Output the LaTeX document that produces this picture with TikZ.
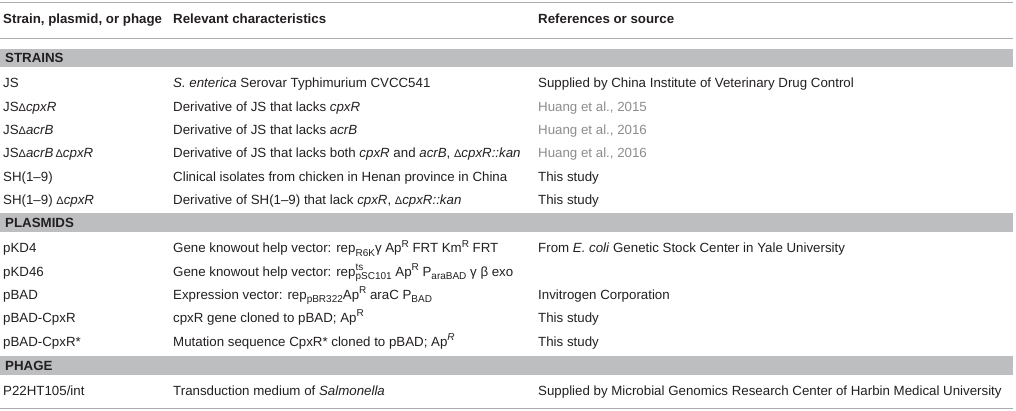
\documentclass[tikz,border=0pt]{standalone}
\usepackage{fontspec}
\setmainfont{Liberation Sans}
\definecolor{rulegray}{HTML}{ABADB0}
\definecolor{bandgray}{HTML}{BDBEC0}
\definecolor{refgray}{HTML}{8C8C8C}
\definecolor{ink}{HTML}{231F20}
\newcommand{\fsz}{\fontsize{13.3}{15}\selectfont}
\newcommand{\dlt}{{\fontsize{11}{11}\selectfont Δ}}
\newcommand{\sps}[1]{\raisebox{0.85ex}{\fontsize{10}{10}\selectfont #1}}
\newcommand{\sbs}[1]{\raisebox{-0.45ex}{\fontsize{10}{10}\selectfont #1}}
\begin{document}
\begin{tikzpicture}[x=1pt,y=-1pt,
  cell/.style={anchor=base west, inner sep=0pt, text=ink, font=\fsz},
  refcell/.style={cell, text=refgray},
  head/.style={cell, font=\fsz\bfseries},
  rule/.style={draw=rulegray, line width=1pt},
  band/.style={fill=bandgray}]
\useasboundingbox (0,0) rectangle (1016,411);
% rules
\draw[rule] (0,3) -- (1013,3);
\draw[rule] (0,39) -- (1013,39);
\draw[rule] (0,408) -- (1013,408);
% bands
\fill[band] (0,49) rectangle (1013,67.5);
\fill[band] (0,213.5) rectangle (1013,232);
\fill[band] (0,355.5) rectangle (1013,374.5);
% header
\node[head] (h1) at (3,24) {Strain, plasmid, or phage};
\node[head] (h2) at (173,24) {Relevant characteristics};
\node[head] (h3) at (538,24) {References or source};
% STRAINS
\node[head] (bs) at (5,63) {STRAINS};
\node[cell] (a1) at (3,88) {JS};
\node[cell] (b1) at (173,88) {\textit{S. enterica} Serovar Typhimurium CVCC541};
\node[cell] (c1) at (538,88) {Supplied by China Institute of Veterinary Drug Control};
\node[cell] (a2) at (3,111.3) {JS\dlt\textit{cpxR}};
\node[cell] (b2) at (173,111.3) {Derivative of JS that lacks \textit{cpxR}};
\node[refcell] (c2) at (538,111.3) {Huang et al., 2015};
\node[cell] (a3) at (3,134.6) {JS\dlt\textit{acrB}};
\node[cell] (b3) at (173,134.6) {Derivative of JS that lacks \textit{acrB}};
\node[refcell] (c3) at (538,134.6) {Huang et al., 2016};
\node[cell] (a4) at (3,157.9) {JS\dlt\textit{acrB}\,\dlt\textit{cpxR}};
\node[cell] (b4) at (173,157.9) {Derivative of JS that lacks both \textit{cpxR} and \textit{acrB}, \dlt\textit{cpxR::kan}};
\node[refcell] (c4) at (538,157.9) {Huang et al., 2016};
\node[cell] (a5) at (3,181.2) {SH(1–9)};
\node[cell] (b5) at (173,181.2) {Clinical isolates from chicken in Henan province in China};
\node[cell] (c5) at (538,181.2) {This study};
\node[cell] (a6) at (3,204.5) {SH(1–9) \dlt\textit{cpxR}};
\node[cell] (b6) at (173,204.5) {Derivative of SH(1–9) that lack \textit{cpxR}, \dlt\textit{cpxR::kan}};
\node[cell] (c6) at (538,204.5) {This study};
% PLASMIDS
\node[head] (bp) at (5,228) {PLASMIDS};
\node[cell] (p1) at (3,253) {pKD4};
\node[cell] (q1) at (173,253) {Gene knowout help vector: rep\sbs{R6K}γ Ap\sps{R} FRT Km\sps{R} FRT};
\node[cell] (r1) at (538,253) {From \textit{E. coli} Genetic Stock Center in Yale University};
\node[cell] (p2) at (3,276.3) {pKD46};
\node[cell] (q2) at (173,276.3) {Gene knowout help vector: rep\rlap{\sps{ts}}\sbs{pSC101} Ap\sps{R} P\sbs{araBAD} γ β exo};
\node[cell] (p3) at (3,299.6) {pBAD};
\node[cell] (q3) at (173,299.6) {Expression vector: rep\sbs{pBR322}Ap\sps{R} araC P\sbs{BAD}};
\node[cell] (r3) at (538,299.6) {Invitrogen Corporation};
\node[cell] (p4) at (3,322.9) {pBAD-CpxR};
\node[cell] (q4) at (173,322.9) {cpxR gene cloned to pBAD; Ap\sps{R}};
\node[cell] (r4) at (538,322.9) {This study};
\node[cell] (p5) at (3,346.2) {pBAD-CpxR*};
\node[cell] (q5) at (173,346.2) {Mutation sequence CpxR* cloned to pBAD; Ap\sps{\textit{R}}};
\node[cell] (r5) at (538,346.2) {This study};
% PHAGE
\node[head] (bh) at (5,370.5) {PHAGE};
\node[cell] (g1) at (3,395) {P22HT105/int};
\node[cell] (g2) at (173,395) {Transduction medium of \textit{Salmonella}};
\node[cell] (g3) at (538,395) {Supplied by Microbial Genomics Research Center of Harbin Medical University};
\end{tikzpicture}
\end{document}
